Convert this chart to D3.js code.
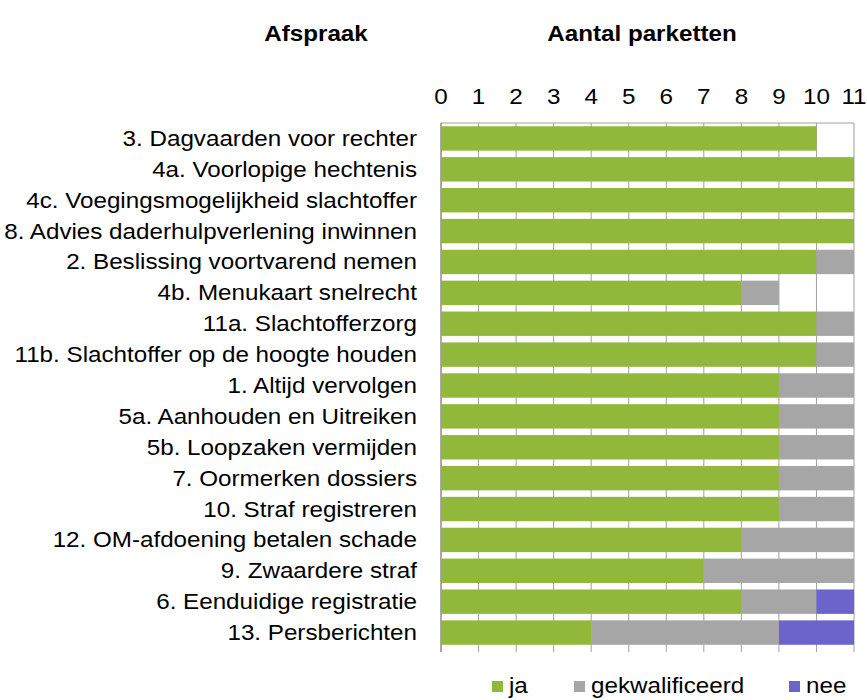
<!DOCTYPE html>
<html>
<head>
<meta charset="utf-8">
<script src="https://cdn.jsdelivr.net/npm/d3@7"></script>
<style>
  body { margin: 0; background: #fff; }
  text { font-family: "Liberation Sans", Arial, sans-serif; font-size: 22px; fill: #000; }
</style>
</head>
<body>
<div id="chart"></div>
<script>
// afspraken (van boven naar beneden)
var afspraken = [
  "3. Dagvaarden voor rechter",
  "4a. Voorlopige hechtenis",
  "4c. Voegingsmogelijkheid slachtoffer",
  "8. Advies daderhulpverlening inwinnen",
  "2. Beslissing voortvarend nemen",
  "4b. Menukaart snelrecht",
  "11a. Slachtofferzorg",
  "11b. Slachtoffer op de hoogte houden",
  "1. Altijd vervolgen",
  "5a. Aanhouden en Uitreiken",
  "5b. Loopzaken vermijden",
  "7. Oormerken dossiers",
  "10. Straf registreren",
  "12. OM-afdoening betalen schade",
  "9. Zwaardere straf",
  "6. Eenduidige registratie",
  "13. Persberichten"
];
var ja             = [10, 11, 11, 11, 10, 8, 10, 10, 9, 9, 9, 9, 9, 8, 7, 8, 4];
var gekwalificeerd = [0, 0, 0, 0, 1, 1, 1, 1, 2, 2, 2, 2, 2, 3, 4, 2, 5];
var nee            = [0, 0, 0, 0, 0, 0, 0, 0, 0, 0, 0, 0, 0, 0, 0, 1, 2];
var reeksen = ["ja", "gekwalificeerd", "nee"];
var kleuren = ["#92b83b", "#a6a6a6", "#6c63cb"];
var ticks = d3.range(0, 12);

var width = 867, height = 700;
var plotLeft = 441, plotRight = 854, plotTop = 123, plotBottom = 648;
var rek = 1.1; // tekst iets breder, zoals in het origineel

var svg = d3.select("#chart").append("svg")
  .attr("width", width).attr("height", height);

var x = d3.scaleLinear().domain([0, 11]).range([plotLeft, plotRight]);
var y = d3.scaleBand().domain(afspraken).range([plotTop, plotBottom]).paddingInner(0.21).paddingOuter(0.105);

function plaats(px, py) {
  return "translate(" + px + "," + py + ") scale(" + rek + ",1)";
}

// titels
svg.append("text").attr("transform", plaats(316, 41)).attr("text-anchor", "middle")
  .style("font-weight", "bold").text("Afspraak");
svg.append("text").attr("transform", plaats(642, 41)).attr("text-anchor", "middle")
  .style("font-weight", "bold").text("Aantal parketten");

// rasterlijnen
svg.append("g").selectAll("line").data(ticks).enter().append("line")
  .attr("x1", d => x(d)).attr("x2", d => x(d))
  .attr("y1", plotTop).attr("y2", plotBottom + 4)
  .style("stroke", d => d == 0 ? "#8c8c8c" : "#a0a0a0").style("stroke-width", d => d == 0 ? 1.5 : 1);
svg.append("line").attr("x1", plotLeft).attr("x2", plotRight).attr("y1", plotTop).attr("y2", plotTop)
  .style("stroke", "#a0a0a0");

// tick labels bovenaan
svg.append("g").selectAll("text").data(ticks).enter().append("text")
  .attr("transform", d => plaats(x(d), 104)).attr("text-anchor", "middle")
  .text(d => d);

// gestapelde balken
var data = afspraken.map(function(a, i) {
  return { afspraak: a, ja: ja[i], gekwalificeerd: gekwalificeerd[i], nee: nee[i] };
});
var stack = d3.stack().keys(reeksen)(data);
svg.append("g").selectAll("g").data(stack).enter().append("g")
  .style("fill", (d, i) => kleuren[i])
  .selectAll("rect").data(d => d).enter().append("rect")
  .attr("x", d => x(d[0]))
  .attr("width", d => x(d[1]) - x(d[0]))
  .attr("y", d => y(d.data.afspraak))
  .attr("height", y.bandwidth());

// categorie labels
svg.append("g").selectAll("text").data(afspraken).enter().append("text")
  .attr("transform", d => plaats(417, y(d) + y.bandwidth() / 2 + 7.5))
  .attr("text-anchor", "end")
  .text(d => d);

// legenda
var legX = [492, 574, 789];
var leg = svg.append("g").selectAll("g").data(reeksen).enter().append("g")
  .attr("transform", (d, i) => "translate(" + legX[i] + ",681)");
leg.append("rect").attr("width", 11).attr("height", 11).style("fill", (d, i) => kleuren[i]);
leg.append("text").attr("transform", plaats(17, 12))
  .text(d => d);
</script>
</body>
</html>
